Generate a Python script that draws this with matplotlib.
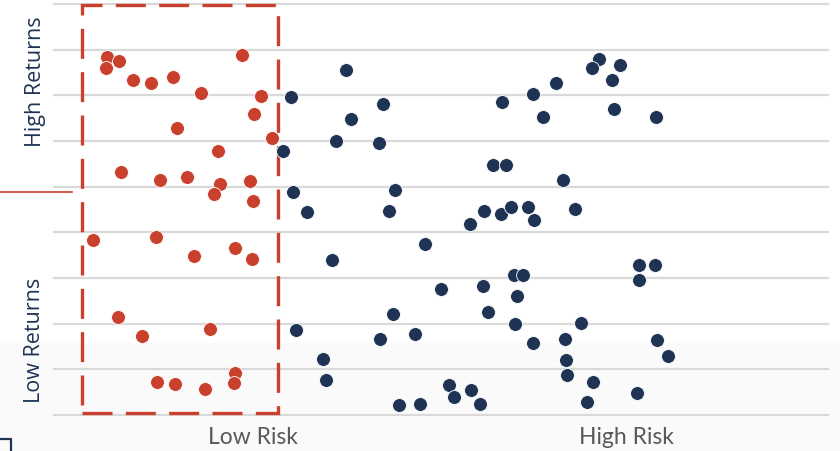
import matplotlib.pyplot as plt
from matplotlib.patches import Rectangle
from matplotlib.lines import Line2D

# risk (x, 0-10) / return (y, 0-9)
low_risk_x = [0.68, 0.84, 0.67, 1.02, 1.25, 1.54, 2.43, 1.90, 2.67, 2.58, 1.59,
              2.82, 2.12, 0.87, 1.37, 1.72, 2.14, 2.07, 2.53, 2.57, 0.50, 1.32,
              1.81, 2.34, 2.56, 0.83, 1.14, 2.02, 1.33, 1.56, 1.95, 2.34, 2.33]
low_risk_y = [7.84, 7.75, 7.60, 7.34, 7.27, 7.40, 7.88, 7.05, 6.98, 6.59, 6.28,
              6.07, 5.78, 5.32, 5.15, 5.21, 5.06, 4.84, 5.12, 4.69, 3.83, 3.90,
              3.48, 3.66, 3.42, 2.15, 1.73, 1.88, 0.72, 0.68, 0.57, 0.92, 0.70]

high_risk_x = [3.77, 3.06, 4.25, 3.84, 3.64, 4.20, 2.96, 3.09, 3.27, 4.41, 4.33,
               5.79, 6.19, 6.32, 6.49, 5.67, 5.84, 5.37, 5.56, 5.78, 5.90, 6.12,
               6.20, 6.58, 3.59, 4.79, 5.00, 5.54, 5.94, 6.06, 5.98, 5.61, 4.38,
               5.96, 3.13, 4.21, 4.66, 6.19, 3.48, 3.51, 5.10, 5.17, 5.39, 5.50,
               4.46, 4.73, 7.04, 6.95, 7.31, 7.21, 7.24, 7.78, 6.73, 7.56, 7.76,
               7.56, 6.81, 6.60, 7.79, 7.93, 6.61, 6.63, 6.96, 6.89, 7.53]
high_risk_y = [7.55, 6.96, 6.81, 6.48, 6.00, 5.96, 5.78, 4.88, 4.45, 4.93, 4.47,
               6.85, 7.03, 6.53, 7.27, 5.47, 5.47, 4.18, 4.47, 4.40, 4.55, 4.55,
               4.27, 5.15, 3.39, 3.74, 2.76, 2.82, 3.07, 3.07, 2.61, 2.26, 2.21,
               1.99, 1.86, 1.66, 1.77, 1.58, 1.23, 0.77, 0.66, 0.39, 0.55, 0.24,
               0.22, 0.24, 7.80, 7.60, 7.66, 7.34, 6.70, 6.53, 4.51, 3.28, 3.28,
               2.96, 2.01, 1.66, 1.64, 1.29, 1.20, 0.88, 0.72, 0.28, 0.48]

x_labels = ['Low Risk', 'High Risk']
x_label_pos = [2.57, 7.39]
y_labels = ['High Returns', 'Low Returns']

RED = '#C9402C'
NAVY = '#1F3354'

fig = plt.figure(figsize=(8.4, 4.51), dpi=100)
fig.patch.set_facecolor('white')

# very faint shaded band at the bottom of the slide
fig.patches.append(Rectangle((0, 0), 1, 1 - 343 / 451, transform=fig.transFigure,
                             facecolor='#FAFAFA', edgecolor='none', zorder=-10))

ax = fig.add_axes([54 / 840, 1 - 415 / 451, 774 / 840, 411 / 451])
ax.set_facecolor('none')
ax.set_xlim(0, 10)
ax.set_ylim(0, 9)

for g in range(10):
    ax.axhline(g, color='#D9D9D9', lw=1.6, zorder=1, clip_on=False)

box = Rectangle((0.36, 0.04), 2.53, 8.93, fill=False, edgecolor=RED, lw=2.4,
                linestyle=(0, (9, 4)), zorder=2, clip_on=False)
ax.add_patch(box)

ax.scatter(low_risk_x, low_risk_y, s=100, color=RED, edgecolor='white',
           linewidth=0.6, zorder=3, clip_on=False)
ax.scatter(high_risk_x, high_risk_y, s=100, color=NAVY, edgecolor='white',
           linewidth=0.6, zorder=3, clip_on=False)

ax.set_xticks([])
ax.set_yticks([])
for s in ax.spines.values():
    s.set_visible(False)

for lab, xp in zip(x_labels, x_label_pos):
    ax.text(xp, -0.5, lab, ha='center', va='center', fontsize=16.5,
            color='#595959', family='Lato')

fig.text(35 / 840, 1 - 82 / 451, y_labels[0], rotation=90, ha='center',
         va='center', fontsize=15.5, color=NAVY, family='Open Sans')
fig.text(35 / 840, 1 - 340 / 451, y_labels[1], rotation=90, ha='center',
         va='center', fontsize=15.5, color=NAVY, family='Open Sans')

# slide decorations at the left edge
fig.lines.append(Line2D([0, 72 / 840], [1 - 192 / 451] * 2, transform=fig.transFigure,
                        color=RED, lw=1.2))
fig.lines.append(Line2D([0, 11 / 840, 11 / 840], [1 - 439 / 451, 1 - 439 / 451, 0],
                        transform=fig.transFigure, color=NAVY, lw=1.6))

fig.savefig('out.png', dpi=100)
